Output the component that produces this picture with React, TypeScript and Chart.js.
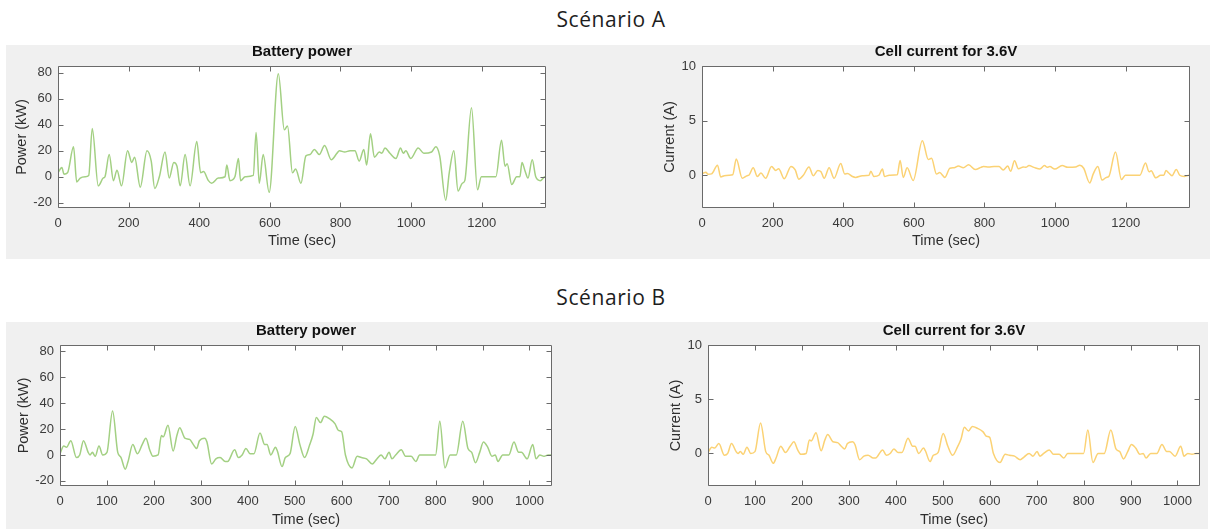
import React, { useEffect, useRef } from "react";
import { Chart, registerables } from "chart.js";

Chart.register(...registerables);

// ---------- data ----------
const TIME_A = [
  0, 11, 17, 27, 44, 53, 63, 77, 87, 97,
  114, 128, 133, 145, 157, 167, 180, 197, 209, 217,
  233, 252, 264, 274, 287, 303, 315, 328, 337, 346,
  360, 374, 393, 404, 412, 426, 435, 454, 473, 478,
  487, 501, 511, 517, 530, 553, 561, 570, 581, 598,
  624, 641, 650, 664, 673, 688, 702, 714, 726, 740,
  755, 774, 790, 797, 812, 827, 841, 853, 866, 874,
  885, 896, 910, 917, 926, 940, 957, 970, 978, 985,
  999, 1020, 1036, 1058, 1070, 1081, 1098, 1108, 1121, 1133,
  1145, 1152, 1171, 1188, 1199, 1240, 1256, 1266, 1272, 1285,
  1299, 1308, 1314, 1322, 1331, 1343, 1353, 1366, 1379, 1382,
];
const POWER_A = [
  3, 7, 2, 3, 23, -4, -1, 0, 1, 37,
  -7, -1, 0, 17, -3, 5, -7, 20, 11, 15,
  -8, 20, 12, -9, 0, 19, -1, 11, 8, -7,
  17, -7, 27, 3, 4, -3, -5, -1, 0, 9,
  -3, 0, 14, -3, 0, 1, 34, -5, 17, -12,
  79, 36, 39, 3, 6, -5, 16, 17, 21, 17,
  24, 13, 18, 20, 19, 20, 20, 12, 21, 9,
  33, 15, 19, 18, 22, 18, 14, 22, 18, 20,
  14, 22, 18, 19, 23, 16, -18, 3, 20, -11,
  -5, -3, 53, -10, 0, 0, 28, 8, 10, -6,
  0, 0, 11, 5, -1, 13, 0, -3, 0, 0,
];
const CURRENT_A = [
  0.12, 0.28, 0.08, 0.12, 0.92, -0.16, -0.04, 0, 0.04, 1.48,
  -0.28, -0.04, 0, 0.68, -0.12, 0.2, -0.28, 0.8, 0.44, 0.6,
  -0.32, 0.8, 0.48, -0.36, 0, 0.76, -0.04, 0.44, 0.32, -0.28,
  0.68, -0.28, 1.08, 0.12, 0.16, -0.12, -0.2, -0.04, 0, 0.36,
  -0.12, 0, 0.56, -0.12, 0, 0.04, 1.36, -0.2, 0.68, -0.48,
  3.16, 1.44, 1.56, 0.12, 0.24, -0.2, 0.64, 0.68, 0.84, 0.68,
  0.96, 0.52, 0.72, 0.8, 0.76, 0.8, 0.8, 0.48, 0.84, 0.36,
  1.32, 0.6, 0.76, 0.72, 0.88, 0.72, 0.56, 0.88, 0.72, 0.8,
  0.56, 0.88, 0.72, 0.76, 0.92, 0.64, -0.7, 0.12, 0.8, -0.44,
  -0.2, -0.12, 2.12, -0.4, 0, 0, 1.12, 0.32, 0.4, -0.24,
  0, 0, 0.44, 0.2, -0.04, 0.52, 0, -0.12, 0, 0,
];

const TIME_B = [
  0, 8, 14, 23, 35, 42, 50, 60, 64, 69,
  75, 83, 91, 100, 112, 123, 130, 139, 145, 155,
  165, 175, 183, 191, 198, 209, 216, 220, 230, 241,
  249, 255, 266, 276, 284, 291, 297, 308, 313, 323,
  332, 341, 352, 357, 372, 380, 388, 396, 405, 413,
  426, 436, 441, 449, 459, 463, 473, 480, 490, 501,
  511, 521, 532, 539, 546, 555, 563, 574, 586, 593,
  600, 608, 622, 633, 642, 653, 665, 673, 684, 692,
  701, 707, 715, 727, 736, 748, 758, 766, 800, 809,
  820, 831, 844, 858, 869, 877, 885, 894, 902, 911,
  920, 927, 933, 943, 956, 967, 977, 983, 995, 1007,
  1014, 1022, 1031, 1040, 1048,
];
const POWER_B = [
  1, 7, 6, 11, -2, 0, 11, 2, 0, 2,
  -1, 7, 0, 2, 34, 2, -2, -11, -5, 8,
  1, 8, 13, 4, -1, 0, 15, 14, 23, 3,
  15, 21, 13, 12, 8, 5, 11, 13, 10, -7,
  -3, -2, -5, -5, 4, -2, 0, 5, 1, 1,
  17, 8, 8, 0, 6, 3, -9, -2, 1, 22,
  8, -2, 8, 16, 29, 25, 30, 28, 24, 19,
  18, 0, -10, -1, -2, -3, -7, -4, 0, -3,
  2, -3, 0, 4, -1, -1, -5, 0, 0, 26,
  -10, 0, 0, 26, 5, 2, -6, 2, 10, 6,
  -1, 0, -5, 0, 0, 10, 2, 2, -3, 8,
  -3, 0, -1, 0, 0,
];
const CURRENT_B = [
  0.08, 0.58, 0.5, 0.91, -0.17, 0, 0.91, 0.17, 0, 0.17,
  -0.08, 0.58, 0, 0.17, 2.82, 0.17, -0.17, -0.91, -0.42, 0.66,
  0.08, 0.66, 1.08, 0.33, -0.08, 0, 1.25, 1.16, 1.91, 0.25,
  1.25, 1.74, 1.08, 1.0, 0.66, 0.42, 0.91, 1.08, 0.83, -0.58,
  -0.25, -0.17, -0.42, -0.42, 0.33, -0.17, 0, 0.42, 0.08, 0.08,
  1.41, 0.66, 0.66, 0, 0.5, 0.25, -0.75, -0.17, 0.08, 1.83,
  0.66, -0.17, 0.66, 1.33, 2.41, 2.08, 2.49, 2.32, 1.99, 1.58,
  1.49, 0, -0.83, -0.08, -0.17, -0.25, -0.58, -0.33, 0, -0.25,
  0.17, -0.25, 0, 0.33, -0.08, -0.08, -0.42, 0, 0, 2.16,
  -0.83, 0, 0, 2.16, 0.42, 0.17, -0.5, 0.17, 0.83, 0.5,
  -0.08, 0, -0.42, 0, 0, 0.83, 0.17, 0.17, -0.25, 0.66,
  -0.25, 0, -0.08, 0, 0,
];

const POWER_TICKS = [-20, 0, 20, 40, 60, 80];
const CURRENT_TICKS = [0, 5, 10];
const TIME_TICKS_A = [0, 200, 400, 600, 800, 1000, 1200];
const TIME_TICKS_B = [0, 100, 200, 300, 400, 500, 600, 700, 800, 900, 1000];

const SCENARIO_TITLES = ["Scénario A", "Scénario B"];
const POWER_TITLE = "Battery power";
const CURRENT_TITLE = "Cell current for 3.6V";
const POWER_LABEL = "Power (kW)";
const CURRENT_LABEL = "Current (A)";
const TIME_LABEL = "Time (sec)";

// ---------- style ----------
const FONT = "'Liberation Sans', Arial, Helvetica, sans-serif";
const GREEN = "#a3d083";
const YELLOW = "#fbd274";
const AXIS_COLOR = "#6a6a6a";
const TICK_COLOR = "#3a3a3a";
const LABEL_COLOR = "#2e2e2e";
const PANEL_BG = "#f0f0f0";

type Rect = { l: number; t: number; r: number; b: number };

const whiteAreaPlugin = {
  id: "whiteArea",
  beforeDatasetsDraw(chart: any) {
    const { ctx, chartArea: a } = chart;
    ctx.save();
    ctx.fillStyle = "#ffffff";
    ctx.fillRect(a.left, a.top, a.right - a.left, a.bottom - a.top);
    ctx.restore();
  },
};

const boxPlugin = {
  id: "matlabBox",
  afterDatasetsDraw(chart: any) {
    const { ctx, chartArea: a, scales } = chart;
    const L = Math.round(a.left) + 0.5;
    const R = Math.round(a.right) - 0.5;
    const T = Math.round(a.top) + 0.5;
    const B = Math.round(a.bottom) - 0.5;
    const tl = 5;
    ctx.save();
    ctx.strokeStyle = AXIS_COLOR;
    ctx.lineWidth = 1;
    ctx.beginPath();
    ctx.rect(L, T, R - L, B - T);
    scales.x.ticks.forEach((tk: any) => {
      const px = Math.round(scales.x.getPixelForValue(tk.value)) + 0.5;
      ctx.moveTo(px, B);
      ctx.lineTo(px, B - tl);
      ctx.moveTo(px, T);
      ctx.lineTo(px, T + tl);
    });
    scales.y.ticks.forEach((tk: any) => {
      const py = Math.round(scales.y.getPixelForValue(tk.value)) + 0.5;
      ctx.moveTo(L, py);
      ctx.lineTo(L + tl, py);
      ctx.moveTo(R, py);
      ctx.lineTo(R - tl, py);
    });
    ctx.stroke();
    ctx.restore();
  },
};

type PlotProps = {
  canvas: Rect;
  box: Rect;
  times: number[];
  values: number[];
  color: string;
  title: string;
  yLabel: string;
  yMin: number;
  yMax: number;
  yTicks: number[];
  xMax: number;
  xTicks: number[];
};

function SubPlot(p: PlotProps) {
  const ref = useRef<HTMLCanvasElement>(null);
  const w = p.canvas.r - p.canvas.l;
  const h = p.canvas.b - p.canvas.t;
  useEffect(() => {
    if (!ref.current) return;
    const titleSize = 15;
    const titleLH = titleSize * 1.2;
    const chart = new Chart(ref.current, {
      type: "line",
      data: {
        datasets: [
          {
            data: p.times.map((t, i) => ({ x: t, y: p.values[i] })),
            borderColor: p.color,
            borderWidth: 1.5,
            pointRadius: 0,
            fill: false,
            cubicInterpolationMode: "monotone",
          },
        ],
      },
      options: {
        animation: false,
        responsive: false,
        events: [],
        layout: {
          padding: { left: 0, top: 0, right: p.canvas.r - p.box.r, bottom: 0 },
        },
        plugins: {
          legend: { display: false },
          tooltip: { enabled: false },
          title: {
            display: true,
            text: p.title,
            fullSize: false,
            color: "#111111",
            font: { family: FONT, size: titleSize, weight: "bold" },
            padding: { top: 0, bottom: p.box.t - p.canvas.t - titleLH },
          },
        },
        scales: {
          x: {
            type: "linear",
            min: 0,
            max: p.xMax,
            afterBuildTicks: (s: any) => {
              s.ticks = p.xTicks.map((v) => ({ value: v }));
            },
            afterFit: (s: any) => {
              s.height = p.canvas.b - p.box.b;
            },
            grid: { display: false, drawTicks: false },
            border: { display: false },
            ticks: {
              color: TICK_COLOR,
              font: { family: FONT, size: 13 },
              padding: 8,
              maxRotation: 0,
              autoSkip: false,
              callback: (v: any) => String(v),
            },
            title: {
              display: true,
              text: TIME_LABEL,
              color: LABEL_COLOR,
              font: { family: FONT, size: 14.5 },
              padding: { top: 0, bottom: 0 },
            },
          },
          y: {
            type: "linear",
            min: p.yMin,
            max: p.yMax,
            afterBuildTicks: (s: any) => {
              s.ticks = p.yTicks.map((v) => ({ value: v }));
            },
            afterFit: (s: any) => {
              s.width = p.box.l - p.canvas.l;
            },
            grid: { display: false, drawTicks: false },
            border: { display: false },
            ticks: {
              color: TICK_COLOR,
              font: { family: FONT, size: 13 },
              padding: 6,
              autoSkip: false,
              callback: (v: any) => String(v),
            },
            title: {
              display: true,
              text: p.yLabel,
              color: LABEL_COLOR,
              font: { family: FONT, size: 14.5 },
              padding: { top: 0, bottom: 0 },
            },
          },
        },
      },
      plugins: [whiteAreaPlugin, boxPlugin],
    } as any);
    return () => chart.destroy();
  }, []);
  return (
    <canvas
      ref={ref}
      width={w}
      height={h}
      style={{
        position: "absolute",
        left: p.canvas.l,
        top: p.canvas.t,
        width: w,
        height: h,
      }}
    />
  );
}

const scenarioStyle = (top: number): React.CSSProperties => ({
  position: "absolute",
  left: 611,
  top,
  transform: "translateX(-50%)",
  fontFamily: "'Open Sans', 'Noto Sans', sans-serif",
  fontSize: 21,
  letterSpacing: 0.6,
  lineHeight: "24px",
  color: "#1e1e1e",
  whiteSpace: "nowrap",
});

export default function App() {
  return (
    <div
      style={{
        position: "fixed",
        left: 0,
        top: 0,
        width: 1215,
        height: 529,
        background: "#ffffff",
        overflow: "hidden",
      }}
    >
      <div style={scenarioStyle(7)}>{SCENARIO_TITLES[0]}</div>
      <div style={{ position: "absolute", left: 6, top: 45, width: 1204, height: 214, background: PANEL_BG }} />
      <div style={scenarioStyle(285)}>{SCENARIO_TITLES[1]}</div>
      <div style={{ position: "absolute", left: 6, top: 322, width: 1202, height: 207, background: PANEL_BG }} />

      <SubPlot
        canvas={{ l: 13, t: 43, r: 560, b: 250 }}
        box={{ l: 58, t: 66, r: 546, b: 208 }}
        times={TIME_A}
        values={POWER_A}
        color={GREEN}
        title={POWER_TITLE}
        yLabel={POWER_LABEL}
        yMin={-24}
        yMax={85}
        yTicks={POWER_TICKS}
        xMax={1382}
        xTicks={TIME_TICKS_A}
      />
      <SubPlot
        canvas={{ l: 661, t: 43, r: 1205, b: 250 }}
        box={{ l: 702, t: 66, r: 1190, b: 208 }}
        times={TIME_A}
        values={CURRENT_A}
        color={YELLOW}
        title={CURRENT_TITLE}
        yLabel={CURRENT_LABEL}
        yMin={-3}
        yMax={10}
        yTicks={CURRENT_TICKS}
        xMax={1382}
        xTicks={TIME_TICKS_A}
      />
      <SubPlot
        canvas={{ l: 15, t: 322, r: 566, b: 529 }}
        box={{ l: 60, t: 345, r: 552, b: 486 }}
        times={TIME_B}
        values={POWER_B}
        color={GREEN}
        title={POWER_TITLE}
        yLabel={POWER_LABEL}
        yMin={-24}
        yMax={85}
        yTicks={POWER_TICKS}
        xMax={1048}
        xTicks={TIME_TICKS_B}
      />
      <SubPlot
        canvas={{ l: 667, t: 322, r: 1212, b: 529 }}
        box={{ l: 708, t: 345, r: 1200, b: 486 }}
        times={TIME_B}
        values={CURRENT_B}
        color={YELLOW}
        title={CURRENT_TITLE}
        yLabel={CURRENT_LABEL}
        yMin={-3}
        yMax={10}
        yTicks={CURRENT_TICKS}
        xMax={1048}
        xTicks={TIME_TICKS_B}
      />
    </div>
  );
}
